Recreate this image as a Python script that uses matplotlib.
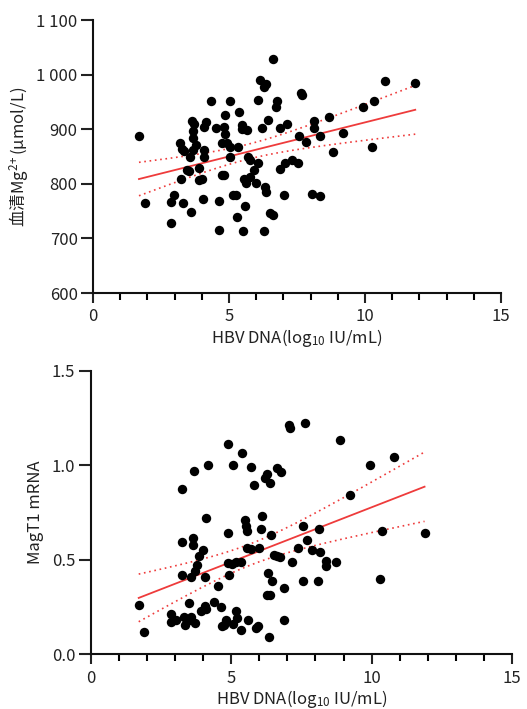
import numpy as np
import matplotlib
matplotlib.use("Agg")
import matplotlib.pyplot as plt
from matplotlib.ticker import MultipleLocator, FuncFormatter

plt.rcParams['font.family'] = ['Noto Sans CJK SC', 'DejaVu Sans']
plt.rcParams['mathtext.fontset'] = 'custom'
plt.rcParams['mathtext.rm'] = 'Noto Sans CJK SC'
plt.rcParams['mathtext.it'] = 'Noto Sans CJK SC'

# serum Mg2+ vs HBV DNA
mg_x = [1.69, 1.91, 2.86, 2.99, 2.87, 3.21, 3.26, 3.35, 3.25, 3.32, 3.46, 3.54, 3.56, 3.59,
        3.63, 3.70, 3.66, 3.67, 3.77, 3.66, 3.90, 3.88, 3.99, 4.07, 4.16, 4.07, 4.07, 4.06,
        4.34, 4.51, 4.62, 4.62, 4.75, 4.80, 4.73, 4.87, 4.83, 4.86, 4.91, 5.02, 5.02, 5.03,
        5.15, 5.25, 5.31, 5.35, 5.37, 5.49, 5.49, 5.66, 5.70, 5.79, 5.56, 5.64, 5.79, 5.58,
        5.53, 5.91, 5.99, 6.06, 6.08, 6.14, 6.22, 6.29, 6.36, 6.27, 6.34, 6.36, 6.44, 6.50,
        6.62, 6.62, 6.77, 6.72, 6.87, 6.87, 7.04, 7.07, 7.14, 7.33, 7.54, 7.56, 7.64, 7.69,
        7.85, 8.07, 8.12, 8.13, 8.34, 8.35, 8.68, 8.84, 9.20, 9.94, 10.27, 10.33, 10.74, 11.85]
mg_y = [887, 764, 766, 779, 728, 874, 864, 861, 808, 764, 826, 824, 850, 749,
        916, 909, 896, 884, 872, 862, 829, 807, 809, 905, 913, 862, 850, 773,
        952, 902, 716, 768, 816, 816, 874, 926, 905, 891, 874, 868, 850, 952,
        780, 780, 739, 867, 931, 908, 900, 899, 850, 844, 809, 802, 813, 760,
        714, 826, 801, 839, 954, 991, 902, 977, 983, 714, 794, 785, 917, 746,
        743, 1029, 952, 941, 827, 902, 780, 839, 909, 843, 839, 887, 966, 963,
        877, 781, 916, 902, 778, 887, 922, 859, 893, 940, 868, 952, 989, 985]

# MagT1 mRNA vs HBV DNA
mt_x = [1.71, 1.91, 2.87, 2.87, 3.02, 3.24, 3.26, 3.26, 3.33, 3.36, 3.49, 3.53, 3.57, 3.58,
        3.63, 3.65, 3.68, 3.70, 3.73, 3.79, 3.87, 3.98, 3.93, 4.07, 4.09, 4.07, 4.09, 4.17,
        4.38, 4.53, 4.64, 4.66, 4.74, 4.81, 4.87, 4.90, 4.87, 4.93, 5.04, 5.06, 5.08, 5.18,
        5.22, 5.17, 5.34, 5.34, 5.40, 5.50, 5.51, 5.57, 5.55, 5.69, 5.59, 5.69, 5.82, 5.88,
        5.96, 6.00, 6.06, 6.09, 6.19, 6.26, 6.38, 6.30, 6.26, 6.38, 6.36, 6.40, 6.46, 6.52,
        6.62, 6.74, 6.64, 6.79, 6.88, 6.88, 7.04, 7.09, 7.16, 7.36, 7.57, 7.57, 7.64, 7.70,
        7.86, 8.10, 8.13, 8.16, 8.37, 8.39, 8.72, 8.88, 9.24, 9.95, 10.35, 10.29, 10.78, 11.88]
mt_y = [0.261, 0.120, 0.212, 0.173, 0.182, 0.873, 0.592, 0.420, 0.199, 0.155, 0.270, 0.182, 0.199, 0.411,
        0.613, 0.578, 0.971, 0.167, 0.441, 0.472, 0.520, 0.552, 0.229, 0.257, 0.240, 0.411, 0.723, 1.001,
        0.279, 0.363, 0.252, 0.152, 0.155, 0.182, 1.114, 0.640, 0.481, 0.420, 0.476, 1.001, 0.159, 0.229,
        0.190, 0.490, 0.487, 0.129, 1.063, 0.710, 0.680, 0.652, 0.564, 0.555, 0.182, 0.992, 0.895, 0.141,
        0.152, 0.561, 0.663, 0.733, 0.934, 0.954, 0.904, 0.432, 0.314, 0.314, 0.090, 0.631, 0.390, 0.525,
        0.520, 0.513, 0.984, 0.962, 0.349, 0.182, 1.213, 1.195, 0.490, 0.561, 0.680, 0.390, 1.225, 0.603,
        0.552, 0.390, 0.663, 0.543, 0.494, 0.469, 0.490, 1.132, 0.843, 1.003, 0.652, 0.400, 1.044, 0.640]

xlabel = r'HBV DNA(log$_{10}$ IU/mL)'
red = '#ee3b3b'
txt = '#222222'


def fit_band(x, y):
    x = np.asarray(x)
    y = np.asarray(y)
    n = len(x)
    p = np.polyfit(x, y, 1)
    fx = np.linspace(x.min(), x.max(), 200)
    fy = np.polyval(p, fx)
    resid = y - np.polyval(p, x)
    s = np.sqrt(np.sum(resid ** 2) / (n - 2))
    se = s * np.sqrt(1.0 / n + (fx - x.mean()) ** 2 / np.sum((x - x.mean()) ** 2))
    t = 1.985  # ~95%, df ~ 96
    return fx, fy, fy - t * se, fy + t * se


def draw(ax, x, y):
    ax.scatter(x, y, s=46, color='black', zorder=3, linewidths=0)
    fx, fy, lo, hi = fit_band(x, y)
    ax.plot(fx, fy, color=red, lw=1.3, zorder=2)
    ax.plot(fx, lo, color=red, lw=1.2, ls=(0, (1, 2.2)), zorder=2)
    ax.plot(fx, hi, color=red, lw=1.2, ls=(0, (1, 2.2)), zorder=2)
    for sp in ['top', 'right']:
        ax.spines[sp].set_visible(False)
    for sp in ['left', 'bottom']:
        ax.spines[sp].set_linewidth(1.5)
        ax.spines[sp].set_color('#111111')
    ax.set_xlim(0, 15)
    ax.xaxis.set_major_locator(MultipleLocator(5))
    ax.xaxis.set_minor_locator(MultipleLocator(1))
    ax.tick_params(axis='x', which='major', length=7, width=1.5, labelsize=12, colors=txt, pad=4)
    ax.tick_params(axis='x', which='minor', length=5, width=1.5)
    ax.tick_params(axis='y', which='major', length=9, width=1.5, labelsize=12, colors=txt, pad=2)
    ax.set_xlabel(xlabel, fontsize=12, color=txt, labelpad=1)


fig = plt.figure(figsize=(5.27, 7.09), dpi=100)

ax1 = fig.add_axes([0.1765, 0.5867, 0.774, 0.385])
draw(ax1, mg_x, mg_y)
ax1.set_ylim(600, 1100)
ax1.yaxis.set_major_locator(MultipleLocator(100))
ax1.yaxis.set_major_formatter(FuncFormatter(lambda v, pos: '{:,.0f}'.format(v).replace(',', ' ')))
ax1.set_ylabel('血清Mg$^{2\\!+}$(μmol/L)', fontsize=12, color=txt, labelpad=4)

ax2 = fig.add_axes([0.172, 0.0772, 0.800, 0.400])
draw(ax2, mt_x, mt_y)
ax2.set_ylim(0, 1.5)
ax2.yaxis.set_major_locator(MultipleLocator(0.5))
ax2.yaxis.set_major_formatter(FuncFormatter(lambda v, pos: '%.1f' % v))
ax2.set_ylabel('MagT1 mRNA', fontsize=12, color=txt, labelpad=6)

fig.savefig('out.png', dpi=100)
